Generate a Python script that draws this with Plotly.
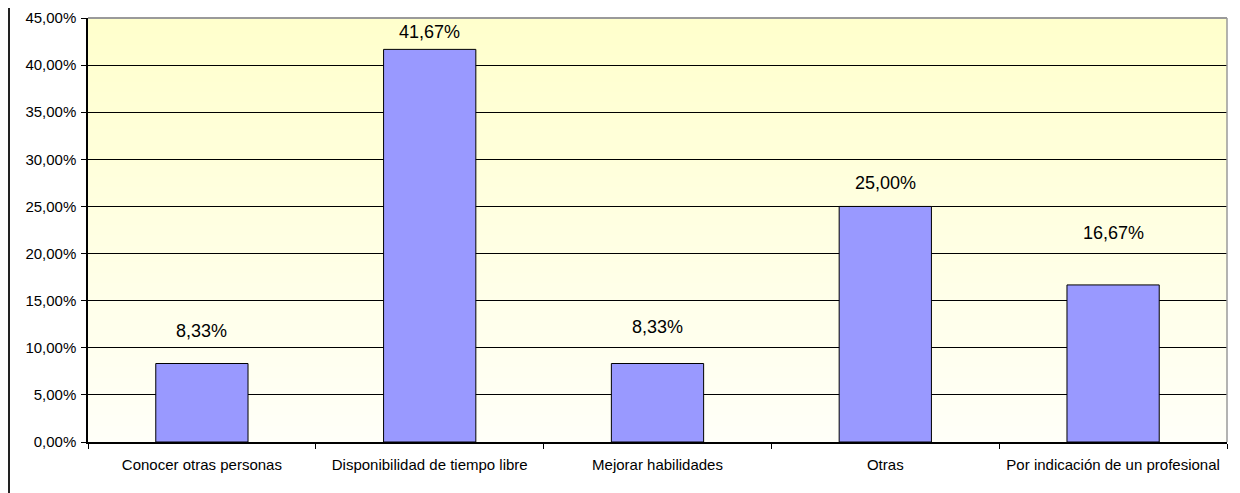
import plotly.graph_objects as go

categories = ["Conocer otras personas", "Disponibilidad de tiempo libre",
              "Mejorar habilidades", "Otras", "Por indicación de un profesional"]
values = [8.33, 41.67, 8.33, 25.00, 16.67]
y_ticks = [0, 5, 10, 15, 20, 25, 30, 35, 40, 45]

# style: vertical offset (px) of each value label above its bar
label_shift = [33, 17, 37, 23, 52]


def pct(v):
    return ("%.2f" % v).replace(".", ",") + "%"


# page has an 8px body margin, so the figure is sized to fit the window
W, H = 1232, 485
L, R, T, B = 80, 13, 10, 51
pw = W - L - R

fig = go.Figure()
fig.add_trace(go.Bar(
    x=categories, y=values, width=0.405,
    marker=dict(color="#9999FF", line=dict(color="#000000", width=1)),
    hoverinfo="skip",
))

# gradient plot background (light yellow at top, near white at bottom)
n = 80
top = (255, 255, 204)
bot = (255, 255, 248)
shapes = []
for i in range(n):
    t = i / (n - 1)
    c = tuple(round(bot[k] + (top[k] - bot[k]) * t) for k in range(3))
    shapes.append(dict(type="rect", xref="x domain", yref="y domain",
                       x0=0, x1=1, y0=i / n, y1=(i + 1) / n + 0.002,
                       fillcolor="rgb(%d,%d,%d)" % c, line=dict(width=0),
                       layer="below"))
# top and right plot border (gray)
shapes.append(dict(type="line", xref="paper", yref="paper", x0=0, x1=1, y0=1, y1=1,
                   line=dict(color="#9A9A9A", width=2), layer="above"))
shapes.append(dict(type="line", xref="paper", yref="paper", x0=1, x1=1, y0=0, y1=1,
                   line=dict(color="#9A9A9A", width=1.5), layer="above"))
# outer chart frame
shapes.append(dict(type="line", xref="paper", yref="paper",
                   x0=(1 - L) / pw, x1=(1 - L) / pw, y0=-1, y1=2,
                   line=dict(color="#222222", width=2)))
shapes.append(dict(type="line", xref="paper", yref="paper",
                   x0=(1230 - L) / pw, x1=(1230 - L) / pw, y0=-1, y1=2,
                   line=dict(color="#C8C8C8", width=2)))

annotations = []
for c, v, s in zip(categories, values, label_shift):
    annotations.append(dict(x=c, y=v, xref="x", yref="y", yshift=s,
                            text=pct(v), showarrow=False, yanchor="middle",
                            font=dict(family="Liberation Sans, Arial", size=18, color="#000000")))

fig.update_layout(
    width=W, height=H,
    margin=dict(l=L, r=R, t=T, b=B, pad=0, autoexpand=False),
    paper_bgcolor="#FFFFFF",
    plot_bgcolor="rgb(255,255,248)",
    showlegend=False,
    shapes=shapes,
    annotations=annotations,
    font=dict(family="Liberation Sans, Arial", size=15, color="#000000"),
)
fig.update_xaxes(
    type="category", range=[-0.5, 4.5],
    showline=True, linecolor="#000000", linewidth=1.5,
    ticks="outside", tickson="boundaries", ticklen=5, tickcolor="#000000",
    showgrid=False, tickfont=dict(size=15), ticklabelstandoff=8,
)
fig.update_yaxes(
    range=[0, 45], tickvals=y_ticks, ticktext=[pct(v) for v in y_ticks],
    showline=True, linecolor="#000000", linewidth=1.5,
    ticks="outside", ticklen=5, tickcolor="#000000",
    showgrid=True, gridcolor="#000000", gridwidth=1,
    zeroline=False, tickfont=dict(size=15), ticklabelstandoff=2,
)

fig.write_html("out.html")
